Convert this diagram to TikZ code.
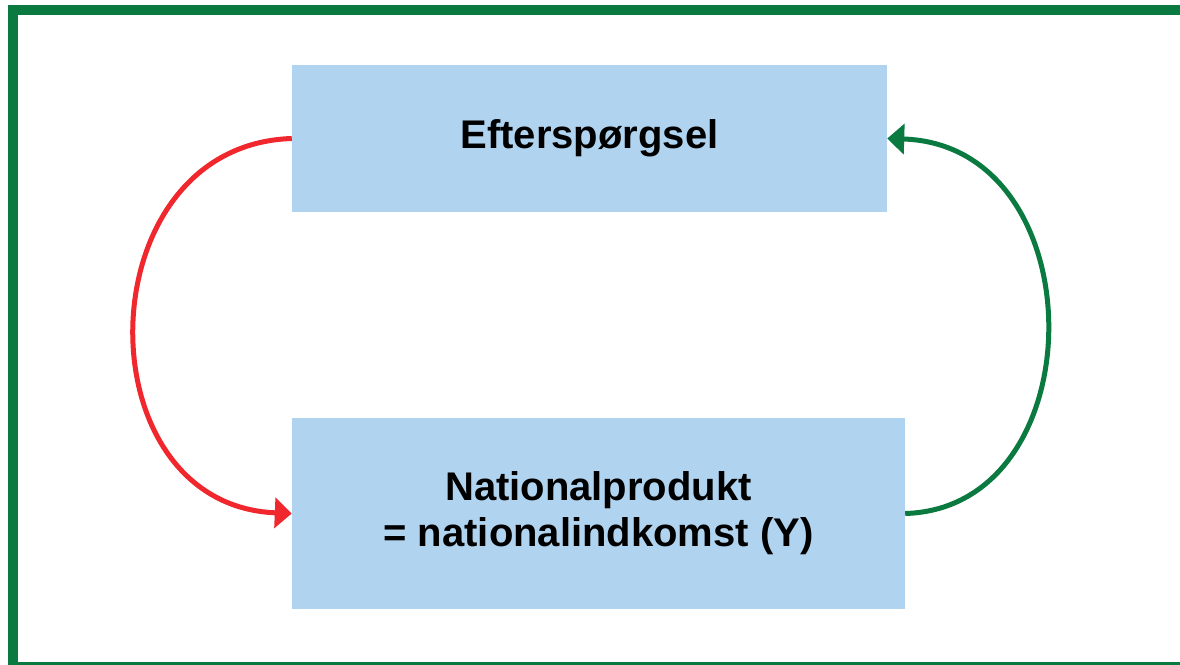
\documentclass[tikz,border=0pt]{standalone}
\usepackage{fontspec}
\setmainfont{Liberation Sans}
\usetikzlibrary{arrows.meta}
\definecolor{frameg}{HTML}{0B7A41}
\definecolor{boxblue}{HTML}{B0D3EF}
\definecolor{arrred}{HTML}{F0282D}
\tikzset{
  box/.style={fill=boxblue, draw=none, inner sep=0pt, align=center,
    font=\fontsize{40}{46}\selectfont\bfseries},
  redarrow/.style={draw=arrred, line width=5pt, -{Triangle[length=17pt,width=30pt]}},
  greenarrow/.style={draw=frameg, line width=5pt, -{Triangle[length=17pt,width=30pt]}}
}
\begin{document}
\begin{tikzpicture}[x=1pt,y=-1pt]
\useasboundingbox (0,0) rectangle (1180,664);
\clip (0,0) rectangle (1180,664);
\draw[frameg, line width=10pt] (13,10) rectangle (1200,667);
\node[box, minimum width=595pt, minimum height=147pt] (top) at (589.5,138.5) {Efterspørgsel};
\node[box, minimum width=613pt, minimum height=191pt] (bot) at (598.5,513.5) {Nationalprodukt\\= nationalindkomst (Y)};
\draw[redarrow] (top.west) .. controls (85,145) and (80,505) .. (bot.west);
\draw[greenarrow] (bot.east) .. controls (1097,508) and (1097,145) .. (top.east);
\end{tikzpicture}
\end{document}
